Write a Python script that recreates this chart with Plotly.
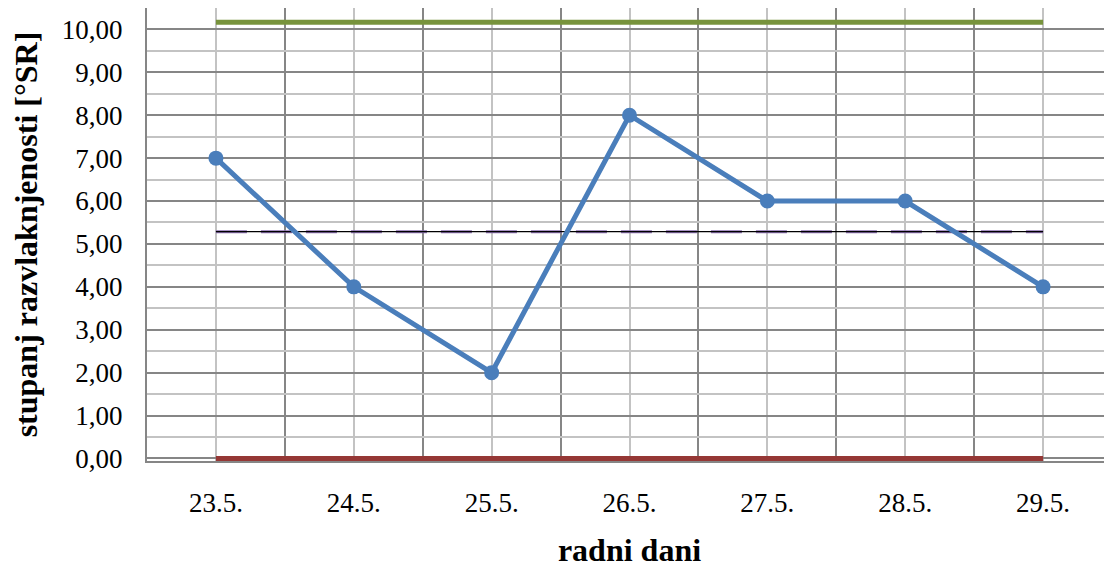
import plotly.graph_objects as go

days = ["23.5.", "24.5.", "25.5.", "26.5.", "27.5.", "28.5.", "29.5."]
sr_values = [7, 4, 2, 8, 6, 6, 4]
upper_limit = 10.17
lower_limit = 0.0
mean_value = sum(sr_values) / len(sr_values)
y_tick_values = [0, 1, 2, 3, 4, 5, 6, 7, 8, 9, 10]
y_tick_labels = ["0,00", "1,00", "2,00", "3,00", "4,00", "5,00", "6,00", "7,00", "8,00", "9,00", "10,00"]

x_pos = list(range(len(days)))
boundaries = [i - 0.5 for i in range(len(days) + 1)]

DARK = "#868686"
LIGHT = "#C3C3C3"

fig = go.Figure()
fig.add_trace(go.Scatter(x=x_pos, y=[lower_limit] * len(days), mode="lines",
                         line=dict(color="#953735", width=5), hoverinfo="skip"))
fig.add_trace(go.Scatter(x=x_pos, y=[upper_limit] * len(days), mode="lines",
                         line=dict(color="#77933C", width=5), hoverinfo="skip"))
fig.add_trace(go.Scatter(x=x_pos, y=[mean_value] * len(days), mode="lines",
                         line=dict(color="#8B6FB0", width=3, dash="31px,14px"), hoverinfo="skip"))
fig.add_trace(go.Scatter(x=x_pos, y=[mean_value] * len(days), mode="lines",
                         line=dict(color="#000000", width=1.2), hoverinfo="skip"))
fig.add_trace(go.Scatter(x=x_pos, y=sr_values, mode="lines+markers",
                         line=dict(color="#4A7EBB", width=5),
                         marker=dict(color="#4A7EBB", size=15)))

fig.update_layout(
    width=1104, height=560,
    margin=dict(l=139, r=0, t=0, b=107.4),
    paper_bgcolor="white", plot_bgcolor="white",
    showlegend=False,
    font=dict(family="Liberation Serif, Times New Roman, serif", color="black"),
)
fig.update_xaxes(
    range=[-0.5, 6.5],
    tickmode="array", tickvals=x_pos, ticktext=days,
    tickfont=dict(size=27),
    ticks="", ticklabelstandoff=17,
    showgrid=True, gridcolor=LIGHT, gridwidth=1.5,
    minor=dict(tickmode="array", tickvals=boundaries, showgrid=True,
               gridcolor=DARK, gridwidth=1.5, ticks=""),
    showline=True, linecolor=DARK, linewidth=2,
    zeroline=False,
    title=dict(text="<b>radni dani</b>", font=dict(size=32), standoff=22),
)
fig.update_yaxes(
    range=[-0.06, 10.5],
    tickmode="array", tickvals=y_tick_values, ticktext=y_tick_labels,
    tickfont=dict(size=27),
    ticks="", ticklabelstandoff=17,
    showgrid=True, gridcolor=DARK, gridwidth=1.5,
    minor=dict(tickmode="array", tickvals=[0.5 + i for i in range(11)], showgrid=True,
               gridcolor=LIGHT, gridwidth=1.5, ticks=""),
    showline=True, linecolor=DARK, linewidth=2,
    zeroline=False,
    title=dict(text="<b>stupanj razvlaknjenosti [°SR]</b>", font=dict(size=32), standoff=16),
)

fig.write_html("out.html")
